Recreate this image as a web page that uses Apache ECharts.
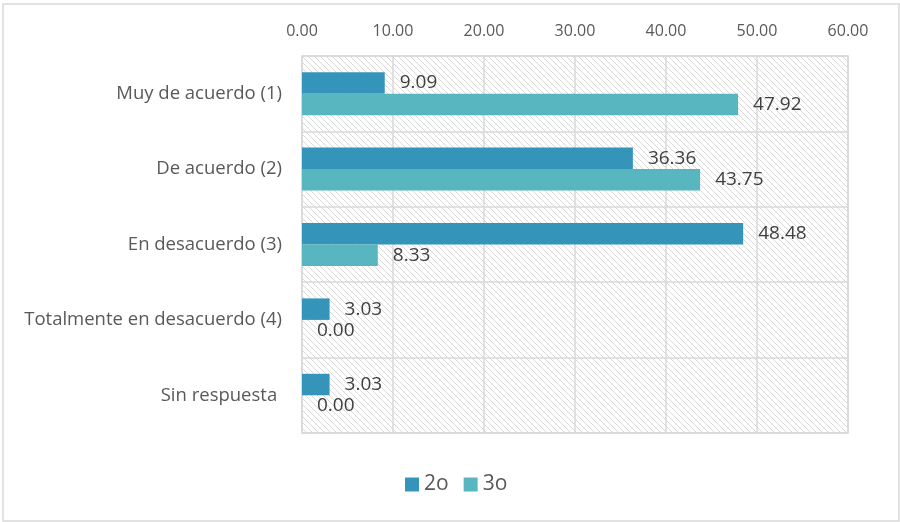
<!DOCTYPE html>
<html>
<head>
<meta charset="utf-8">
<script src="https://cdn.jsdelivr.net/npm/echarts@6/dist/echarts.min.js"></script>
<style>
html,body{margin:0;padding:0;background:#fff;}
#chart{width:900px;height:522px;}
</style>
</head>
<body>
<div id="chart"></div>
<script>
const categories = ['Muy de acuerdo (1)', 'De acuerdo (2)', 'En desacuerdo (3)', 'Totalmente en desacuerdo (4)', 'Sin respuesta '];
const seriesNames = ['2o', '3o'];
const values2o = [9.09, 36.36, 48.48, 3.03, 3.03];
const values3o = [47.92, 43.75, 8.33, 0.00, 0.00];
const axisMin = 0, axisMax = 60, axisStep = 10;

const FONT = '"Open Sans", Lato, sans-serif';

// hatch pattern
const tile = document.createElement('canvas');
tile.width = 6; tile.height = 6;
const c = tile.getContext('2d');
c.fillStyle = '#ffffff';
c.fillRect(0, 0, 6, 6);
c.strokeStyle = '#d9d9d9';
c.lineWidth = 1;
c.beginPath();
c.moveTo(-1, -1); c.lineTo(7, 7);
c.moveTo(-1, 5); c.lineTo(1, 7);
c.moveTo(5, -1); c.lineTo(7, 1);
c.stroke();

const chart = echarts.init(document.getElementById('chart'), null, {renderer: 'canvas'});
const labelCfg = {
  show: true, position: 'right', distance: 15,
  color: '#404040', fontFamily: FONT, fontSize: 19,
  formatter: p => p.value.toFixed(2)
};
chart.setOption({
  animation: false,
  graphic: [{
    type: 'rect', silent: true, z: -10,
    shape: {x: 3, y: 4, width: 896, height: 517},
    style: {fill: 'none', stroke: '#d9d9d9', lineWidth: 1.5}
  }],
  grid: {
    left: 302, right: 52, top: 56, bottom: 89,
    show: true,
    backgroundColor: {image: tile, repeat: 'repeat'},
    borderColor: '#d9d9d9', borderWidth: 1.5
  },
  legend: {
    data: seriesNames,
    bottom: 22, left: 400,
    itemWidth: 14, itemHeight: 14, itemGap: 15,
    icon: 'rect',
    textStyle: {color: '#595959', fontFamily: FONT, fontSize: 21}
  },
  xAxis: {
    type: 'value', position: 'top',
    min: axisMin, max: axisMax, interval: axisStep,
    axisLine: {show: false}, axisTick: {show: false},
    axisLabel: {color: '#595959', fontFamily: FONT, fontSize: 16, margin: 17,
      formatter: v => v.toFixed(2)},
    splitLine: {show: true, lineStyle: {color: '#d9d9d9', width: 1.5}}
  },
  yAxis: {
    type: 'category', data: categories, inverse: true,
    axisLine: {show: false}, axisTick: {show: false},
    axisLabel: {color: '#595959', fontFamily: FONT, fontSize: 18.5, margin: 20},
    splitLine: {show: true, lineStyle: {color: '#d9d9d9', width: 1.5}}
  },
  series: [
    {name: seriesNames[0], type: 'bar', data: values2o, barGap: '0%', barCategoryGap: '43%',
     itemStyle: {color: '#3494BA'}, label: labelCfg},
    {name: seriesNames[1], type: 'bar', data: values3o, barGap: '0%', barCategoryGap: '43%',
     itemStyle: {color: '#58B6C0'}, label: labelCfg}
  ]
});
</script>
</body>
</html>
